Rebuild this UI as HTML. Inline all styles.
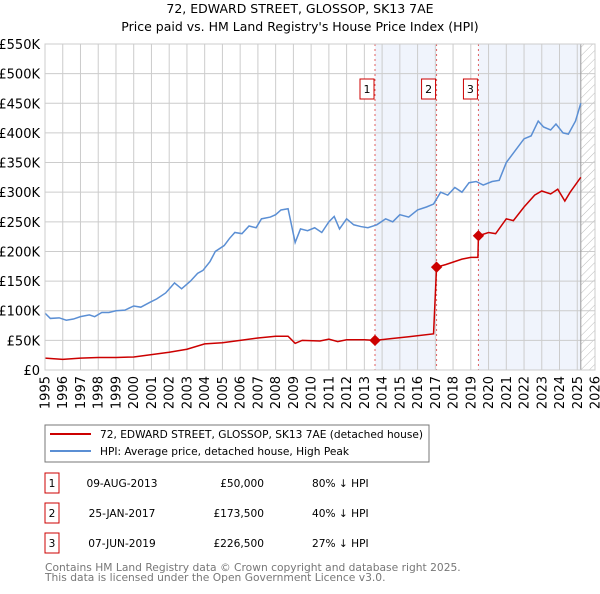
<!DOCTYPE html>
<html><head><meta charset="utf-8"><style>
body{margin:0;background:#fff;font-family:"DejaVu Sans","Liberation Sans",sans-serif;}
svg text{font-family:"DejaVu Sans","Liberation Sans",sans-serif;}
</style></head><body>
<svg id="chart" width="600" height="590" viewBox="0 0 600 590" xmlns="http://www.w3.org/2000/svg">
<defs><pattern id="hatch" width="6" height="6" patternUnits="userSpaceOnUse" patternTransform="rotate(45)"><line x1="0" y1="0" x2="0" y2="6" stroke="#bbb" stroke-width="1"/></pattern></defs>
<text x="300" y="13" text-anchor="middle" font-size="12.5" fill="#000">72, EDWARD STREET, GLOSSOP, SK13 7AE</text>
<text x="300" y="31" text-anchor="middle" font-size="12.5" fill="#000">Price paid vs. HM Land Registry's House Price Index (HPI)</text>
<g id="plot"></g>
<rect x="45" y="425" width="384" height="37" fill="#fff" stroke="#777"/>
<line x1="50" y1="434" x2="91" y2="434" stroke="#cc0000" stroke-width="2"/>
<text x="100" y="438" font-size="10.6">72, EDWARD STREET, GLOSSOP, SK13 7AE (detached house)</text>
<line x1="50" y1="451" x2="91" y2="451" stroke="#5b8fd4" stroke-width="2"/>
<text x="100" y="455" font-size="10.6">HPI: Average price, detached house, High Peak</text>
<g id="table" font-size="10.6"></g>
<text x="45" y="571" font-size="10.7" fill="#777">Contains HM Land Registry data © Crown copyright and database right 2025.</text>
<text x="45" y="581" font-size="10.7" fill="#777">This data is licensed under the Open Government Licence v3.0.</text>
</svg>
<script>
const yTicks=[0,50,100,150,200,250,300,350,400,450,500,550];
const yTickLabels=["£0","£50K","£100K","£150K","£200K","£250K","£300K","£350K","£400K","£450K","£500K","£550K"];
const xYears=[1995,1996,1997,1998,1999,2000,2001,2002,2003,2004,2005,2006,2007,2008,2009,2010,2011,2012,2013,2014,2015,2016,2017,2018,2019,2020,2021,2022,2023,2024,2025,2026];
const hpiT=[1995,1995.3,1995.8,1996.2,1996.6,1997,1997.5,1997.8,1998.2,1998.6,1999,1999.5,2000,2000.4,2000.9,2001.3,2001.8,2002.1,2002.3,2002.7,2003.2,2003.6,2003.9,2004.3,2004.6,2005.1,2005.4,2005.7,2006.1,2006.5,2006.9,2007.2,2007.7,2008.0,2008.3,2008.7,2009.1,2009.4,2009.8,2010.2,2010.6,2011.0,2011.3,2011.6,2012.0,2012.4,2012.8,2013.2,2013.7,2014.2,2014.6,2015.0,2015.5,2016.0,2016.5,2016.9,2017.3,2017.7,2018.1,2018.5,2018.9,2019.3,2019.7,2020.2,2020.6,2021.0,2021.5,2022.0,2022.4,2022.8,2023.1,2023.5,2023.8,2024.2,2024.5,2024.9,2025.2];
const hpiV=[96,87,88,84,86,90,93,90,97,97,100,101,108,106,114,120,130,140,147,137,150,163,168,183,200,210,222,232,230,243,240,255,258,262,270,272,215,238,235,240,232,250,259,238,255,245,242,240,245,255,250,262,258,270,275,280,300,295,308,300,316,318,312,318,320,350,370,390,395,420,410,405,415,400,398,420,450];
const saleT=[1995,1996,1997,1998,1999,2000,2001,2002,2003,2004,2005,2006,2007,2008,2008.7,2009.1,2009.5,2010.5,2011,2011.5,2012,2013,2013.6,2014.5,2015.5,2016.9,2017.07,2017.6,2018.0,2018.5,2019.0,2019.4,2019.43,2020.0,2020.4,2021.0,2021.4,2022.0,2022.6,2023.0,2023.5,2023.9,2024.3,2024.6,2025.2];
const saleV=[20,18,20,21,21,22,26,30,35,44,46,50,54,57,57,45,50,49,52,48,51,51,50,53,56,61,173.5,178,182,187,190,190,226.5,232,230,255,252,275,295,302,297,305,285,300,325];
const salesT=[2013.6,2017.07,2019.43];
const salesV=[50,173.5,226.5];
const salesLabels=["1","2","3"];
const salesDates=["09-AUG-2013","25-JAN-2017","07-JUN-2019"];
const salesPrices=["£50,000","£173,500","£226,500"];
const salesHpi=["80% ↓ HPI","40% ↓ HPI","27% ↓ HPI"];

const NS="http://www.w3.org/2000/svg";
const L=45,R=595,T=44,B=370;
const x=t=>L+(t-1995)*(R-L)/31;
const y=v=>B-v*(B-T)/550;
const g=document.getElementById('plot');
function mk(tag,attrs,parent){const e=document.createElementNS(NS,tag);for(const k in attrs)e.setAttribute(k,attrs[k]);(parent||g).appendChild(e);return e;}
let s1=mk('rect',{x:x(2013.6),y:T,width:x(2017.07)-x(2013.6),height:B-T,fill:'#f0f4fc'});


let s2=mk('rect',{x:x(2019.43),y:T,width:x(2025.2)-x(2019.43),height:B-T,fill:'#f0f4fc'});


let h=mk('rect',{x:x(2025.2),y:T,width:R-x(2025.2),height:B-T,fill:'url(#hatch)'});


xYears.forEach(yr=>{let l=mk('line',{x1:x(yr),x2:x(yr),y1:T,y2:B,stroke:'#ccc','stroke-width':1});


let t=mk('text',{x:0,y:0,'font-size':13,'text-anchor':'end',transform:`translate(${x(yr)+4.5},${B+6}) rotate(-90)`});
t.textContent=yr;

});
yTicks.forEach((v,i)=>{let l=mk('line',{x1:L,x2:R,y1:y(v),y2:y(v),stroke:'#ccc','stroke-width':1});


let t=mk('text',{x:L-5,y:y(v)+5,'font-size':13,'text-anchor':'end'});
t.textContent=yTickLabels[i];

});
let nl=mk('line',{x1:x(2025.2),x2:x(2025.2),y1:T,y2:B,stroke:'#999','stroke-width':1});


salesT.forEach((t,i)=>{let l=mk('line',{x1:x(t),x2:x(t),y1:T,y2:B,stroke:'#e06060','stroke-width':1,'stroke-dasharray':'2,3'});


let r=mk('rect',{x:x(t)-15,y:79,width:14,height:20,fill:'#fff',stroke:'#cc0000'});


let tx=mk('text',{x:x(t)-8,y:93,'font-size':11,'text-anchor':'middle'});
tx.textContent=salesLabels[i];

});
let hp=mk('polyline',{points:hpiT.map((t,i)=>x(t)+','+y(hpiV[i])).join(' '),fill:'none',stroke:'#5b8fd4','stroke-width':1.5});


let sp=mk('polyline',{points:saleT.map((t,i)=>x(t)+','+y(saleV[i])).join(' '),fill:'none',stroke:'#cc0000','stroke-width':1.5});


salesT.forEach((t,i)=>{let d=mk('rect',{x:x(t)-4,y:y(salesV[i])-4,width:8,height:8,fill:'#cc0000',transform:`rotate(45 ${x(t)} ${y(salesV[i])})`});

});
let bd=mk('rect',{x:L,y:T,width:R-L,height:B-T,fill:'none',stroke:'#ccc'});


const tb=document.getElementById('table');
salesT.forEach((t,i)=>{const cy=483+i*30;
let r=mk('rect',{x:45,y:cy-10,width:14,height:20,fill:'#fff',stroke:'#cc0000'},tb);


let a=mk('text',{x:52,y:cy+4,'text-anchor':'middle'},tb);a.textContent=salesLabels[i];


let b=mk('text',{x:122,y:cy+4,'text-anchor':'middle'},tb);b.textContent=salesDates[i];


let c=mk('text',{x:264,y:cy+4,'text-anchor':'end'},tb);c.textContent=salesPrices[i];


let d=mk('text',{x:312,y:cy+4},tb);d.textContent=salesHpi[i];

});
</script>
</body></html>
